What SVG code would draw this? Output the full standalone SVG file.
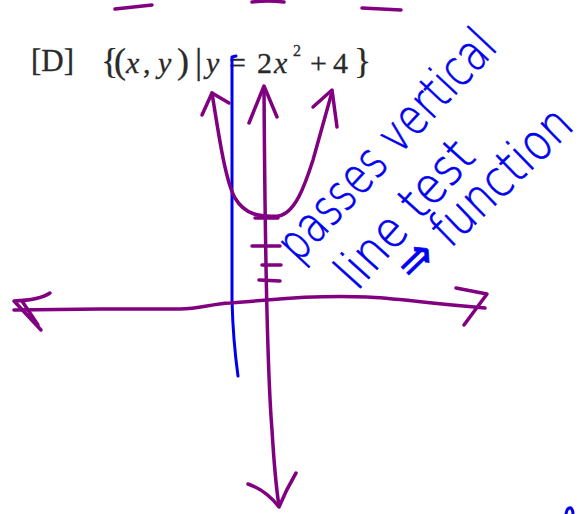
<svg xmlns="http://www.w3.org/2000/svg" width="582" height="514" viewBox="0 0 582 514">
<style>
.pr{font-family:"Liberation Serif","Times New Roman",serif;fill:#2a2a2a;stroke:#2a2a2a;stroke-width:0.3}
.it{font-style:italic}
.ink{fill:none;stroke-linecap:round;stroke-linejoin:round}
.pur{stroke:#800080;stroke-width:3.5}
.blu{stroke:#0000f0;stroke-width:3}
.hw{font-family:"DejaVu Sans","Liberation Sans",sans-serif;font-weight:200;fill:#0000f0;stroke:#0000f0;stroke-width:0.7}
</style>
<rect width="582" height="514" fill="#ffffff"/>
<g id="printed-text">
<text class="pr" x="31" y="71" font-size="31">[D]</text>
<text class="pr" y="73" font-size="30">
<tspan x="101" font-size="36">{</tspan><tspan x="114" font-size="36">(</tspan><tspan x="126" class="it">x</tspan><tspan x="143">,</tspan><tspan x="158" class="it">y</tspan><tspan x="177" font-size="36">)</tspan><tspan x="195" font-size="36">|</tspan><tspan x="206" class="it">y</tspan><tspan x="229">=</tspan><tspan x="257">2</tspan><tspan x="274" class="it">x</tspan><tspan x="293" y="56" font-size="16">2</tspan><tspan x="310" y="73">+</tspan><tspan x="333">4</tspan><tspan x="354" font-size="36">}</tspan>
</text>
</g>
<g id="top-marks" class="ink pur">
<path d="M115,9 L152,5"/>
<path d="M252,2 Q268,0 284,2"/>
<path d="M362,8 L401,10"/>
</g>
<g id="blue-vertical-line" class="ink blu">
<path d="M236,56 L232,57 L232,300 Q233,340 238,376"/>
</g>
<g id="connectors">
<g id="y-axis" class="ink pur">
<path d="M264,87 C265,250 268,380 272,430 Q275,480 279,506"/>
<path d="M249,123 L264,86 L277,117"/>
<path d="M248,484 Q266,490 279,507 M296,473 Q286,490 279,507"/>
</g>
<g id="x-axis" class="ink pur">
<path d="M14,310 L100,309 L180,309 C200,309 210,304 230,303 L267,300 C300,297 340,296 367,297 C390,298 410,301 485,308"/>
<path d="M50,293 Q40,300 14,301 L41,330 M22,301 L38,325"/>
<path d="M456,288 L487,294 L464,325"/>
</g>
<g id="ticks" class="ink pur">
<path d="M255,218 L278,218"/>
<path d="M252,246 L280,246"/>
<path d="M262,265 L281,265"/>
<path d="M259,280 L280,281"/>
</g>
</g>
<g id="parabola" class="ink pur">
<path d="M212,93 C218,130 225,180 235,198 C245,215 260,217 278,216 C295,214 305,185 313,160 C320,135 327,110 332,92"/>
<path d="M202,115 L212,93 L229,103"/>
<path d="M313,107 L332,90 L337,127"/>
</g>
<g id="annotation">
<text class="hw" font-size="50" textLength="295" lengthAdjust="spacingAndGlyphs" transform="translate(298,264) rotate(-47)">passes vertical</text>
<text class="hw" font-size="50" textLength="180" lengthAdjust="spacingAndGlyphs" transform="translate(357,292) rotate(-48)">line test</text>
<text class="hw" font-size="50" textLength="225" lengthAdjust="spacingAndGlyphs" transform="translate(414,284) rotate(-44)">⇒ function</text>
</g>
<path class="ink blu" d="M566,514 Q567,507 571,508 Q573,510 573,514"/>
</svg>
